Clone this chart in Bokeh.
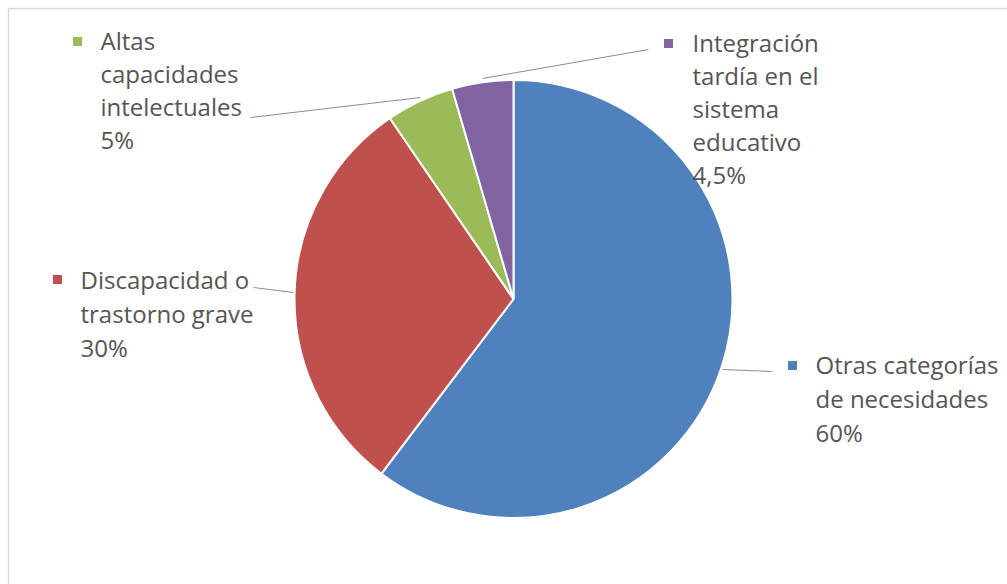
import math
from bokeh.plotting import figure
from bokeh.models import Range1d, ColumnDataSource
from bokeh.core.properties import value
from bokeh.embed import file_html
from bokeh.resources import INLINE

# ---- data ----
categories = ["Otras categorías de necesidades", "Discapacidad o trastorno grave",
              "Altas capacidades intelectuales", "Integración tardía en el sistema educativo"]
values = [60, 30, 5, 4.5]
value_labels = ["60%", "30%", "5%", "4,5%"]
label_lines = [["Otras categorías", "de necesidades"],
               ["Discapacidad o", "trastorno grave"],
               ["Altas", "capacidades", "intelectuales"],
               ["Integración", "tardía en el", "sistema", "educativo"]]
colors = ["#4F81BD", "#C0504D", "#9BBB59", "#8064A2"]

W, H = 1007, 584
def Y(py):
    return H - py

p = figure(width=W, height=H, output_backend="svg", toolbar_location=None,
           x_range=Range1d(0, W), y_range=Range1d(0, H), min_border=0)
p.axis.visible = False
p.grid.visible = False
p.outline_line_color = None
p.background_fill_color = "white"

# chart border (top and left visible)
p.segment(x0=[8, 8], y0=[Y(8), Y(8)], x1=[W, 8], y1=[Y(8), 0], line_color="#d9d9d9", line_width=1.5)

# pie
cx, cy, r = 513, Y(298.5), 219
total = sum(values)
starts, ends = [], []
cum = 0.0
for v in values:
    starts.append(math.pi / 2 - cum / total * 2 * math.pi)
    cum += v
    ends.append(math.pi / 2 - cum / total * 2 * math.pi)
src = ColumnDataSource(dict(start=starts, end=ends, color=colors))
p.wedge(x=cx, y=cy, radius=r, start_angle="start", end_angle="end", direction="clock",
        fill_color="color", line_color="white", line_width=2, source=src)

# leader lines (pixel layout)
leaders = [
    ([722, 772], [369, 371]),
    ([253, 293], [287, 292]),
    ([250, 420], [117, 97]),
    ([482, 648], [78, 49]),
]
for xs, ys in leaders:
    p.line(xs, [Y(v) for v in ys], line_color="#8c8c8c", line_width=1)

# labels: (marker x, marker y, text x, first line y, line step)
label_pos = [
    (792, 365, 815, 364, 34),
    (57, 279, 80, 279, 34),
    (77, 41, 100, 40, 33),
    (668, 43, 692, 42, 33),
]
font = value("Open Sans")
for i, (mx, my, tx, ty, step) in enumerate(label_pos):
    p.scatter([mx], [Y(my)], marker="square", size=9, fill_color=colors[i], line_color=None)
    lines = label_lines[i] + [value_labels[i]]
    for j, ln in enumerate(lines):
        p.text([tx], [Y(ty + j * step)], text=[ln], text_font=font, text_font_size="24px",
               text_color="#555555", text_baseline="middle", text_align="left")

open("out.html", "w").write(file_html(p, INLINE))
